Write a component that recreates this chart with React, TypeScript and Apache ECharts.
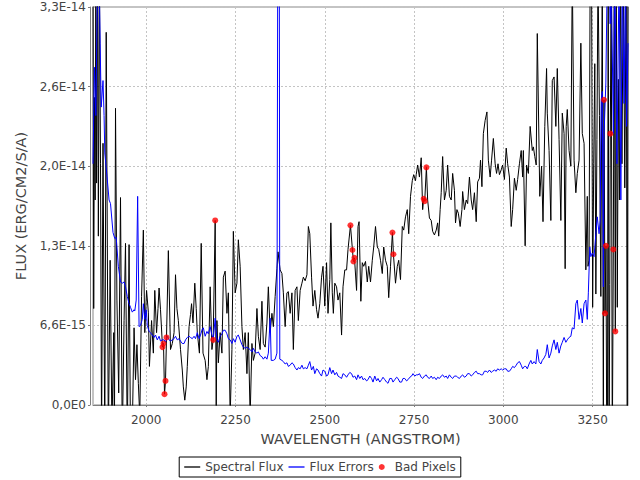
import React, { useEffect, useRef } from "react";
import * as echarts from "echarts";

// Wavelength (Angstrom) and flux in units of 1e-15 erg/cm2/s/A
const spectralFlux: [number, number][] = [
  [1851, 36], [1853, 8.0], [1855, 25.5], [1857, 17], [1859, 36], [1861, 18.4], [1864, 36], [1866, 14],
  [1869, 36], [1872, 20], [1875, -3], [1879, 21.7], [1884, -3], [1888, 30.9], [1894, -3], [1899, 12],
  [1904, -2], [1909, 6], [1911, -3], [1914, 24.6], [1918, 8.7], [1923, 1], [1928, 17.2], [1933, -3],
  [1938, 7], [1942, 13.4], [1947, -3], [1952, 13.3], [1956, -3], [1961, -2], [1966, 6.4], [1970, 2.1],
  [1974, 5], [1978, 1.8], [1982, -1], [1987, 9.0], [1992, 14.5], [1996, 6.0], [2001, 9.5], [2006, 7.7],
  [2009, 3.2], [2015, 7.0], [2020, 4.3], [2024, 9.5], [2029, 6.0], [2033, 8], [2036, 9.7], [2040, 7.9],
  [2045.6, 4.8], [2048.4, 5.1], [2051.2, 0.9], [2054.0, 2.0], [2056.8, 5.6], [2062, 12.8], [2068, 4.6],
  [2073, 5.1], [2078, 6.0], [2082, 10.8], [2086, 8], [2090, 7.0], [2096, 4.6], [2101, 2.9], [2104, 1.5],
  [2108, 0.4], [2112, 1.5], [2115, 3.2], [2120, 6.5], [2124, 7.5], [2127, 8.4], [2131, 6.8], [2136, 10.1],
  [2140, 8], [2143, 6.0], [2149, 4.3], [2154, 13.4], [2159, 4.3], [2165, 3.7], [2170, 2.1], [2174, 3.2],
  [2179, 9.8], [2184, 4.6], [2187.5, 5.4], [2193.1, 15.3], [2196, -0.5], [2198, 7.0], [2202, 3.5],
  [2207, 6.0], [2212, 4.3], [2216, 10.6], [2221, 11.1], [2226, 7.6], [2230, 9.3], [2235, -1], [2240, 4.6],
  [2244, 14.4], [2249, 9.3], [2254, 10.1], [2258, 13.7], [2263, 11.5], [2268, 6.5], [2272, 4.6], [2277, 6.0],
  [2282, 2.6], [2286, 6.0], [2291, -1], [2296, 5.1], [2300, 3.7], [2305, 4.3], [2310, 8.0], [2314, 5.7],
  [2319, 4.6], [2324, 8.6], [2328, 5.1], [2333, 4.8], [2338, 6.8], [2342, 9.8], [2347, 6.0], [2352, 7.6],
  [2356, 6.5], [2361, 9.0], [2366, 11.3], [2369, 12.7], [2375, 11.2], [2380, 10.9], [2384, 9.3], [2389, 6.5],
  [2394, 9.3], [2398, 9.4], [2403, 7.6], [2408, 9.3], [2412, 4.6], [2417, 9.5], [2422, 9.8], [2426, 7.0],
  [2431, 9.5], [2436, 10.1], [2440, 10.6], [2445, 10.3], [2450, 10.8], [2454, 14.8], [2458, 14.2],
  [2463, 10.6], [2467, 8.2], [2472, 9.5], [2477, 7.9], [2481, 7.2], [2486, 8.4], [2491, 10.6], [2495, 11.5],
  [2500, 8.2], [2505, 11.8], [2509, 7.6], [2514, 10.4], [2517, 15.1], [2521, 9.3], [2524, 7.6], [2528, 10.1],
  [2533, 9.8], [2537, 8.7], [2542, 9.3], [2547, 5.8], [2551, 9.8], [2556, 11.2], [2561, 11.2], [2565, 12.9],
  [2571.9, 14.9], [2577.5, 12.85], [2580.3, 11.9], [2583.1, 12.2], [2589, 9.5], [2593, 14.8], [2596, 15.2],
  [2601, 8.6], [2605, 11.8], [2609, 11.5], [2614, 11.9], [2619, 10.2], [2623, 11.5], [2628, 10.2],
  [2633, 12.0], [2637, 13.1], [2642, 14.8], [2647, 13.1], [2651, 12.9], [2656, 12.0], [2661, 10.9],
  [2665, 13.1], [2670, 12.0], [2675, 11.5], [2679, 8.9], [2684, 11.5], [2689.4, 14.3], [2692.2, 12.5],
  [2698, 10.1], [2703, 11.5], [2707, 12.0], [2712, 10.4], [2717, 14.8], [2721, 14.5], [2726, 15.6],
  [2731, 16.2], [2735, 14.2], [2740, 17.3], [2745, 18.6], [2749, 19.1], [2754, 18.6], [2756, 19.1],
  [2760, 19.9], [2765, 18.9], [2770, 20.5], [2774, 16.2], [2777, 17.1], [2779.8, 16.9], [2784.5, 19.7],
  [2788, 17.0], [2793, 15.5], [2798, 15.3], [2802, 14.4], [2807, 14.1], [2812, 14.5], [2816, 15.1],
  [2819, 14.0], [2823, 16.2], [2826, 17.6], [2830, 20.6], [2835, 17.0], [2840, 17.8], [2844, 19.9],
  [2849, 17.3], [2854, 17.0], [2858, 19.2], [2863, 17.8], [2866, 15.1], [2870, 16.2], [2874, 15.9],
  [2879, 14.8], [2884, 16.2], [2886, 17.7], [2891, 16.2], [2896, 17.0], [2900, 16.7], [2905, 18.9],
  [2910, 17.0], [2914, 16.2], [2919, 17.6], [2924, 15.2], [2928, 18.5], [2933, 18.8], [2936, 20.3],
  [2940, 18.1], [2944, 22.5], [2949, 23.6], [2954, 24.3], [2958, 20.3], [2963, 18.9], [2967, 20.3],
  [2972, 22.1], [2977, 20.0], [2981, 19.2], [2985, 20.0], [2989, 19.1], [2994, 19.5], [2998, 19.9],
  [3003, 18.7], [3008, 21.3], [3012, 20.0], [3017, 18.9], [3022, 14.8], [3026, 16.2], [3031, 18.8],
  [3036, 17.8], [3040, 18.7], [3045, 20.0], [3050, 21.1], [3054, 18.9], [3056, 21.1], [3061, 13.2],
  [3065, 19.9], [3070, 19.2], [3075, 23.1], [3081, 21.1], [3084, 21.4], [3088, 20.6], [3092, 19.9],
  [3095, 30.8], [3102, 17.3], [3107, 19.8], [3111, 15.2], [3116, 23.1], [3121, 27.9], [3123, 24.2],
  [3128, 21.1], [3133, 15.3], [3137, 26.9], [3142, 27.2], [3147, 23.1], [3151, 27.9], [3156, 22.0],
  [3161, 15.3], [3165, 24.2], [3170, 22.5], [3173, 11.3], [3176, 23.1], [3179, 24.5], [3184, 21.1],
  [3189, 19.8], [3193, 36], [3198, 20.3], [3203, 17.6], [3207, 19.2], [3212, 20.3], [3217, 30.0],
  [3221, 22.5], [3226, 21.7], [3231, 11.2], [3235, 17.3], [3237, 11.5], [3240, 12.0], [3243, 36],
  [3247, 36], [3250, 8.1], [3253, 20], [3256, 28.3], [3259, 9.2], [3262, 22], [3265, 36], [3269, 24],
  [3273, 9], [3277, 36], [3280, -3], [3281.8, 25.3], [3284.6, 7.6], [3287.4, 13.2], [3289.5, -4],
  [3291.5, -4], [3293.5, 36], [3296, -4], [3298, 10], [3299.5, 22.5], [3302, 36], [3305, -4],
  [3307.9, 12.9], [3310.5, 36], [3313.5, 6.1], [3316, 36], [3319, 8.1], [3322, 27], [3325, 17],
  [3328, 36], [3332, 20], [3336, 36], [3340, 18], [3344, 36], [3347, -4], [3349, 36],
];

const fluxErrors: [number, number][] = [
  [1851, 20], [1855, 28], [1859, 24], [1864, 36], [1868, 36], [1871, 30], [1874, 24.7], [1879, 26.9],
  [1882, 24], [1884, 20.9], [1888, 19.7], [1896, 17.0], [1900, 16.7], [1907, 14.3], [1912, 13.8],
  [1916, 13.9], [1922, 11.5], [1928, 10.2], [1933, 10.1], [1938, 10.2], [1942, 9.8], [1947, 9.0],
  [1952, 8.4], [1956, 8.1], [1961, 7.7], [1966, 7.9], [1968, 7.8], [1972, 8.7], [1976, 17.3], [1980, 6.5],
  [1984, 6.6], [1989, 7.1], [1992, 8.4], [1996, 7.1], [2000, 7.9], [2003, 6.6], [2008, 6.1], [2012, 6.0],
  [2017, 5.8], [2022, 5.6], [2026, 5.8], [2031, 5.4], [2036, 5.7], [2040, 5.3], [2045, 5.4], [2050, 5.4],
  [2054, 5.2], [2059, 5.7], [2064, 5.4], [2068, 5.3], [2073, 5.4], [2078, 5.5], [2082, 5.7], [2087, 5.4],
  [2092, 5.5], [2096, 5.3], [2101, 5.1], [2106, 5.1], [2110, 5.4], [2115, 5.6], [2120, 5.7], [2124, 5.6],
  [2129, 5.5], [2134, 5.7], [2138, 5.5], [2143, 6.0], [2148, 5.5], [2152, 5.8], [2157, 6.3], [2160, 6.4],
  [2165, 5.7], [2170, 6.1], [2174, 5.9], [2179, 6.5], [2184, 5.8], [2188, 5.5], [2193, 7.2], [2198, 5.4],
  [2202, 5.2], [2207, 5.7], [2212, 5.9], [2216, 6.2], [2221, 6.2], [2226, 5.9], [2230, 5.5], [2235, 5.4],
  [2240, 5.1], [2244, 5.5], [2249, 5.2], [2254, 5.7], [2258, 5.8], [2263, 5.4], [2268, 5.0], [2272, 4.8],
  [2277, 4.7], [2282, 4.8], [2286, 4.7], [2291, 4.6], [2296, 4.4], [2300, 4.7], [2305, 4.4], [2310, 4.3],
  [2314, 4.4], [2319, 4.1], [2324, 4.0], [2328, 3.8], [2333, 4.0], [2338, 3.8], [2342, 4.3], [2347, 7.2],
  [2350, 3.7], [2356, 3.7], [2361, 3.8], [2366, 4.3], [2368.5, 40], [2372.5, 40], [2374, 3.8], [2380, 3.7],
  [2384, 3.6], [2389, 3.4], [2394, 3.5], [2398, 3.2], [2403, 3.3], [2408, 3.5], [2412, 3.4], [2417, 3.1],
  [2422, 2.9], [2426, 3.1], [2431, 3.0], [2436, 3.3], [2440, 3.0], [2445, 3.1], [2450, 3.0], [2454, 3.3],
  [2458, 3.6], [2463, 2.9], [2468, 3.2], [2472, 2.6], [2477, 3.0], [2481, 2.9], [2486, 2.6], [2491, 2.4],
  [2495, 2.9], [2500, 2.8], [2505, 2.4], [2509, 2.5], [2514, 3.1], [2519, 2.6], [2523, 2.9], [2528, 2.5],
  [2533, 2.7], [2537, 2.4], [2542, 2.3], [2547, 2.2], [2551, 2.6], [2556, 2.5], [2561, 2.3], [2565, 2.5],
  [2570, 2.7], [2575, 2.6], [2579, 2.3], [2584, 2.4], [2589, 2.1], [2593, 2.5], [2598, 2.2], [2603, 2.4],
  [2607, 2.1], [2612, 2.2], [2617, 2.0], [2621, 2.1], [2626, 2.4], [2631, 2.2], [2635, 1.9], [2640, 2.4],
  [2645, 2.0], [2649, 2.2], [2654, 1.9], [2659, 2.1], [2663, 2.3], [2668, 2.1], [2673, 1.9], [2677, 1.8],
  [2682, 2.2], [2687, 2.2], [2691, 1.9], [2696, 2.1], [2701, 2.3], [2705, 2.2], [2710, 1.9], [2715, 1.9],
  [2719, 2.2], [2724, 2.2], [2729, 2.0], [2733, 2.1], [2738, 2.3], [2743, 2.4], [2747, 2.6], [2752, 2.4],
  [2756, 2.5], [2761, 2.5], [2765, 2.6], [2770, 2.3], [2774, 2.2], [2779, 2.4], [2784, 2.5], [2788, 2.3],
  [2793, 2.2], [2798, 2.4], [2802, 2.2], [2807, 2.3], [2812, 2.1], [2816, 2.3], [2821, 2.2], [2826, 2.4],
  [2830, 2.5], [2835, 2.3], [2840, 2.4], [2844, 2.2], [2849, 2.5], [2854, 2.3], [2858, 2.2], [2863, 2.4],
  [2868, 2.4], [2872, 2.3], [2877, 2.2], [2882, 2.4], [2886, 2.5], [2891, 2.3], [2896, 2.4], [2900, 2.6],
  [2905, 2.6], [2910, 2.4], [2914, 2.5], [2919, 2.7], [2924, 2.8], [2928, 2.6], [2933, 2.6], [2938, 2.5],
  [2942, 2.5], [2947, 2.8], [2952, 2.8], [2956, 2.7], [2961, 2.9], [2966, 2.7], [2970, 2.8], [2975, 2.9],
  [2980, 2.8], [2984, 3.0], [2989, 2.9], [2994, 3.0], [2998, 2.9], [3003, 3.0], [3008, 3.0], [3012, 2.8],
  [3017, 2.8], [3022, 3.0], [3026, 3.2], [3031, 3.1], [3036, 3.3], [3040, 3.5], [3045, 3.6], [3050, 3.3],
  [3054, 3.0], [3059, 3.2], [3063, 3.2], [3067, 3.0], [3072, 3.4], [3077, 3.7], [3081, 3.4], [3086, 3.6],
  [3091, 3.4], [3095, 4.6], [3100, 3.6], [3105, 3.4], [3109, 3.7], [3114, 3.9], [3119, 4.2], [3123, 5.0],
  [3128, 3.9], [3133, 4.3], [3137, 4.9], [3142, 5.4], [3147, 4.6], [3151, 5.2], [3156, 4.3], [3161, 4.9],
  [3165, 5.2], [3170, 5.6], [3175, 5.2], [3179, 5.4], [3184, 5.6], [3189, 5.7], [3193, 6.4], [3198, 6.3],
  [3203, 8.4], [3207, 8.7], [3212, 7.1], [3217, 8.0], [3221, 6.8], [3226, 8.4], [3231, 8.7], [3235, 7.1],
  [3238, 9.3], [3242, 13.1], [3245, 12.3], [3249, 12.6], [3254, 12.3], [3259, 14.2], [3263, 15.6],
  [3268, 14.2], [3271, 15.3], [3274, 25.3], [3277, 26.0], [3280, 9.8], [3282, 22.5], [3287, 26.7],
  [3291, 36], [3296, 36], [3299, 31.6], [3302, 36], [3308, 22.5], [3312, 36], [3318, 20], [3324, 36],
  [3329, 17.0], [3333, 36], [3338, 25], [3342, 36], [3345, 23.1], [3349, 30],
];

const badPixels: [number, number][] = [
  [2045.6, 4.8], [2048.4, 5.1], [2051.2, 0.9], [2054.0, 2.0], [2056.8, 5.6], [2187.5, 5.4], [2193.1, 15.3],
  [2571.9, 14.9], [2577.5, 12.85], [2580.3, 11.9], [2583.1, 12.2], [2689.4, 14.3], [2692.2, 12.5],
  [2777, 17.1], [2779.8, 16.9], [2784.5, 19.7], [3281.8, 25.3], [3284.6, 7.6], [3287.4, 13.2],
  [3299.5, 22.5], [3307.9, 12.9], [3313.5, 6.1],
];

const seriesNames = ["Spectral Flux", "Flux Errors", "Bad Pixels"];

const xMin = 1851;
const xMax = 3349;
const xStep = 250;
const yMax = 33;
const yStep = 6.6;

const FONT = "DejaVu Sans";
const TEXT = "#444444";
const LINE_ICON = "path://M0 0H16V1.3H0Z";

function formatFlux(v: number): string {
  const s = (v * 1e-15).toExponential(1);
  const [m, e] = s.split("e");
  return m.replace(".", ",") + "E" + String(parseInt(e, 10));
}

export default function App() {
  const ref = useRef<HTMLDivElement>(null);
  useEffect(() => {
    if (!ref.current) return;
    const chart = echarts.init(ref.current, null, { renderer: "svg" });
    chart.setOption({
      animation: false,
      backgroundColor: "#ffffff",
      textStyle: { fontFamily: FONT },
      grid: {
        left: 93, right: 12, top: 7, bottom: 75,
        show: true, borderColor: "#888888", borderWidth: 1, backgroundColor: "#ffffff",
        outerBoundsMode: "none",
      },
      xAxis: {
        type: "value",
        min: xMin, max: xMax,
        minInterval: xStep, maxInterval: xStep,
        offset: 4,
        name: "WAVELENGTH (ANGSTROM)",
        nameLocation: "middle",
        nameGap: 22,
        nameTextStyle: { fontFamily: FONT, fontSize: 14.5, color: TEXT },
        axisLine: { show: true, lineStyle: { color: "#808080", width: 1 } },
        axisTick: { show: true, length: 2, lineStyle: { color: "#808080" } },
        axisLabel: {
          showMinLabel: false, showMaxLabel: false,
          formatter: (v: number) => String(Math.round(v)),
          fontFamily: FONT, fontSize: 12, color: TEXT, margin: 5,
        },
        splitLine: { show: true, lineStyle: { color: "#c4c4c4", type: [2, 2], width: 1 } },
      },
      yAxis: {
        type: "value",
        min: 0, max: yMax, interval: yStep,
        offset: 3,
        name: "FLUX (ERG/CM2/S/A)",
        nameLocation: "middle",
        nameGap: 58,
        nameTextStyle: { fontFamily: FONT, fontSize: 14.5, color: TEXT },
        axisLine: { show: true, lineStyle: { color: "#808080", width: 1 } },
        axisTick: { show: true, length: 2, lineStyle: { color: "#808080" } },
        axisLabel: { formatter: formatFlux, fontFamily: FONT, fontSize: 12, color: TEXT, margin: 4 },
        splitLine: { show: true, lineStyle: { color: "#c4c4c4", type: [2, 2], width: 1 } },
      },
      legend: {
        bottom: 3,
        left: "center",
        orient: "horizontal",
        backgroundColor: "#ffffff",
        borderColor: "#000000",
        borderWidth: 1,
        borderRadius: 0,
        padding: [4, 5],
        itemGap: 5,
        itemWidth: 16,
        itemHeight: 6,
        textStyle: { fontFamily: FONT, fontSize: 12, color: TEXT },
        data: [
          { name: seriesNames[0], icon: LINE_ICON },
          { name: seriesNames[1], icon: LINE_ICON },
          { name: seriesNames[2], icon: "circle" },
        ],
      },
      series: [
        {
          name: seriesNames[0],
          type: "line",
          data: spectralFlux,
          showSymbol: false,
          symbol: "none",
          clip: true,
          color: "#000000",
          lineStyle: { color: "#000000", width: 1 },
          z: 2,
        },
        {
          name: seriesNames[1],
          type: "line",
          data: fluxErrors,
          showSymbol: false,
          symbol: "none",
          clip: true,
          color: "#0000ff",
          lineStyle: { color: "#0000ff", width: 1 },
          z: 3,
        },
        {
          name: seriesNames[2],
          type: "scatter",
          data: badPixels,
          symbol: "circle",
          symbolSize: 6,
          color: "#ff0000",
          itemStyle: { color: "#ff0000" },
          z: 4,
        },
      ],
    });
    return () => chart.dispose();
  }, []);
  return (
    <div
      ref={ref}
      style={{ position: "absolute", left: 0, top: 0, width: 640, height: 480 }}
    />
  );
}
